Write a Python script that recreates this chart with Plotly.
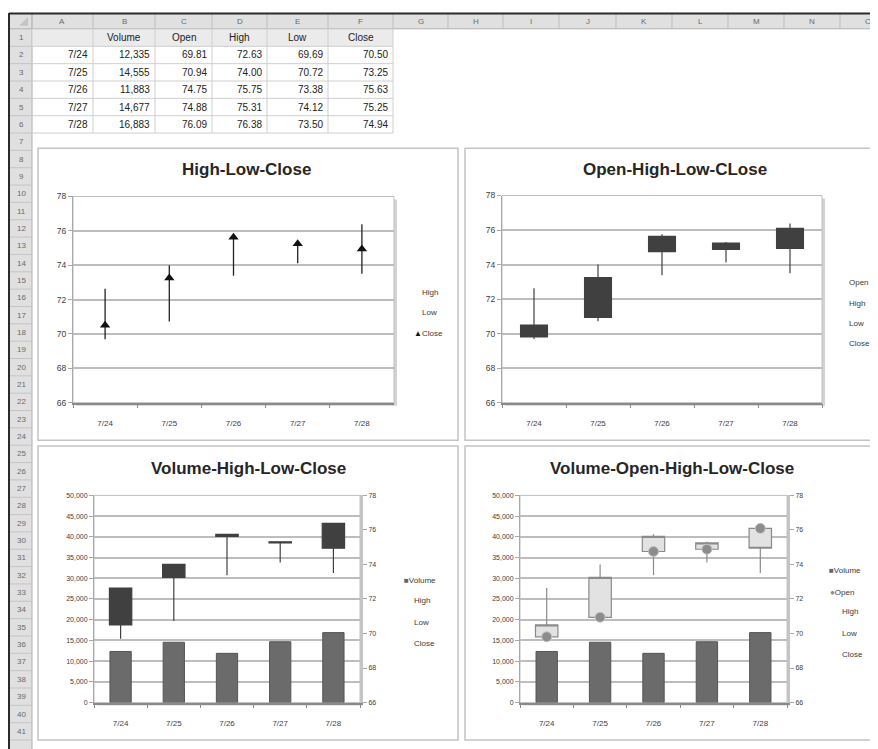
import plotly.graph_objects as go

# ---------------- data ----------------
dates = ["7/24", "7/25", "7/26", "7/27", "7/28"]
volume = [12335, 14555, 11883, 14677, 16883]
open_p = [69.81, 70.94, 74.75, 74.88, 76.09]
high_p = [72.63, 74.00, 75.75, 75.31, 76.38]
low_p = [69.69, 70.72, 73.38, 74.12, 73.50]
close_p = [70.50, 73.25, 75.63, 75.25, 74.94]

column_letters = ["A", "B", "C", "D", "E", "F", "G", "H", "I", "J", "K", "L", "M", "N", "O"]
table_headers = ["Volume", "Open", "High", "Low", "Close"]
chart_titles = ["High-Low-Close", "Open-High-Low-CLose",
                "Volume-High-Low-Close", "Volume-Open-High-Low-Close"]
price_range = [66, 78]
volume_range = [0, 50000]

# ---------------- geometry helpers ----------------
# The page body has an 8px margin, so the figure is placed at (8, 8).
OFF = 8
W, H = 878 - OFF, 749 - OFF
FONT = "Liberation Sans"


def X(p):
    return (p - OFF) / W


def Y(p):
    return 1 - (p - OFF) / H


shapes = []
ann = []


def rect(x0, y0, x1, y1, fill="rgba(0,0,0,0)", line=None, lw=1):
    shapes.append(dict(type="rect", xref="paper", yref="paper",
                       x0=X(x0), x1=X(x1), y0=Y(y1), y1=Y(y0),
                       fillcolor=fill,
                       line=dict(color=line or "rgba(0,0,0,0)", width=lw if line else 0),
                       layer="below"))


def seg(x0, y0, x1, y1, color, lw=1):
    shapes.append(dict(type="line", xref="paper", yref="paper",
                       x0=X(x0), x1=X(x1), y0=Y(y0), y1=Y(y1),
                       line=dict(color=color, width=lw), layer="below"))


def txt(x, y, s, size=8, color="#404040", anchor="center", bold=False):
    ann.append(dict(xref="paper", yref="paper", x=X(x), y=Y(y),
                    text=f"<b>{s}</b>" if bold else s, showarrow=False,
                    xanchor=anchor, yanchor="middle",
                    font=dict(family=FONT, size=size, color=color)))


# ---------------- spreadsheet ----------------
col_edges = [32, 93, 155, 212, 267, 328, 393, 448, 503, 559, 616, 672, 728, 784, 840, 896]
row_top0 = 24.2
row_h = 17.58

rect(10, 9, 900, 24, fill="#e0e0e0")
rect(10, 24, 32, 760, fill="#e0e0e0")
seg(10, 24, 900, 24, "#b0b0b0")
seg(32, 9, 32, 760, "#b0b0b0")
shapes.append(dict(type="path", xref="paper", yref="paper",
                   path=f"M {X(28)} {Y(12)} L {X(28)} {Y(21)} L {X(19)} {Y(21)} Z",
                   fillcolor="#c4c4c4", line=dict(width=0), layer="below"))
for e in col_edges:
    seg(e, 9, e, 24, "#bdbdbd")
for i, letter in enumerate(column_letters):
    txt((col_edges[i] + col_edges[i + 1]) / 2, 16.5, letter, 8, "#6a6a6a")
for r in range(1, 42):
    top = row_top0 + (r - 1) * row_h
    seg(10, top + row_h, 32, top + row_h, "#c4c4c4")
    txt(21, top + row_h / 2, str(r), 8, "#6a6a6a")

table_bottom = row_top0 + 6 * row_h
rect(32, row_top0, col_edges[6], row_top0 + row_h, fill="#ebebeb")
for r in range(7):
    seg(32, row_top0 + r * row_h, col_edges[6], row_top0 + r * row_h, "#cfcfcf")
for e in col_edges[:7]:
    seg(e, row_top0, e, table_bottom, "#cfcfcf")
for j, h in enumerate(table_headers):
    txt((col_edges[j + 1] + col_edges[j + 2]) / 2, row_top0 + row_h / 2, h, 10, "#222")
for i in range(len(dates)):
    yc = row_top0 + (i + 1.5) * row_h
    cells = [dates[i], f"{volume[i]:,}", f"{open_p[i]:.2f}", f"{high_p[i]:.2f}",
             f"{low_p[i]:.2f}", f"{close_p[i]:.2f}"]
    for j, c in enumerate(cells):
        txt(col_edges[j + 1] - 3, yc, c, 10, "#222", anchor="right")

seg(9, 8.5, 900, 8.5, "#2b2b2b", 2)
seg(9, 8, 9, 760, "#2b2b2b", 2)

# ---------------- chart frames ----------------
frames = [(38, 145, 458, 441), (465, 145, 900, 441), (38, 447, 458, 745), (465, 447, 900, 745)]
for f in frames:
    rect(*f, fill="white", line="#c4c4c4", lw=1.5)

plots = [(73, 194, 394, 403), (502, 193, 822, 403), (94, 497, 360, 707), (520, 497, 787, 707)]
for (x0, y0, x1, y1) in plots:
    rect(x0 + 3, y0 + 3, x1 + 3, y1 + 3, fill="#d2d2d2")
    rect(x0, y0, x1, y1, fill="white", line="#c0c0c0", lw=1)

title_pos = [(247, 167), (675, 167), (248, 470), (672, 470)]
for (tx, ty), t in zip(title_pos, chart_titles):
    txt(tx, ty, t, 17, "#262626", bold=True)

# legends (text entries)
LG = "#3a3a3a"
txt(420, 291, "High", 8, LG, "left")
txt(420, 312, "Low", 8, LG, "left")
txt(412, 333, "<span style='color:#111'>▲</span>Close", 8, LG, "left")

for lab, yy in zip(["Open", "High", "Low", "Close"], [281, 302, 323, 343]):
    txt(847, yy, lab, 8, LG, "left")

txt(402, 583, "<span style='color:#666'>■</span>Volume", 8, LG, "left")
for lab, yy in zip(["High", "Low", "Close"], [604, 626, 647]):
    txt(412, yy, lab, 8, LG, "left")

txt(827, 573, "<span style='color:#666'>■</span>Volume", 8, LG, "left")
txt(828, 595, "<span style='color:#8c8c8c'>●</span>Open", 8, LG, "left")
for lab, yy in zip(["High", "Low", "Close"], [615, 637, 658]):
    txt(840, yy, lab, 8, LG, "left")

# ---------------- axes ----------------
TF = dict(family=FONT, size=8, color="#404040")


def xax(dom, anchor):
    return dict(domain=[X(dom[0]), X(dom[2])], anchor=anchor, type="category",
                range=[-0.5, 4.5], showgrid=False, showline=True, linecolor="#8a8a8a",
                linewidth=1.5, ticks="outside", tickson="boundaries", ticklen=4,
                tickcolor="#8a8a8a", tickfont=TF, ticklabelstandoff=12,
                rangeslider=dict(visible=False), fixedrange=True, zeroline=False)


def yax(dom, anchor, rng, dtick, grid=True, side="left", fmt=None, overlay=None,
        lw=1, lc="#a8a8a8", size=8):
    d = dict(domain=[Y(dom[3]), Y(dom[1])], anchor=anchor, range=rng, dtick=dtick,
             tick0=rng[0], showgrid=grid, gridcolor="#bdbdbd", gridwidth=1.5,
             showline=True, linecolor=lc, linewidth=lw, ticks="outside", ticklen=4,
             tickcolor="#a8a8a8", tickfont=dict(family=FONT, size=size, color="#404040"),
             zeroline=False, side=side, fixedrange=True)
    if fmt:
        d["tickformat"] = fmt
    if overlay:
        d["overlaying"] = overlay
    return d


layout = dict(
    width=W, height=H, margin=dict(l=0, r=0, t=0, b=0),
    paper_bgcolor="white", plot_bgcolor="rgba(0,0,0,0)", showlegend=False,
    bargap=0.6, boxgap=0.58, boxgroupgap=0,
    shapes=shapes, annotations=ann,
    xaxis=xax(plots[0], "y"),
    yaxis=yax(plots[0], "x", price_range, 2, size=8.5),
    xaxis2=xax(plots[1], "y2"),
    yaxis2=yax(plots[1], "x2", price_range, 2, size=8.5),
    xaxis3=xax(plots[2], "y3"),
    yaxis3=yax(plots[2], "x3", volume_range, 5000, fmt=",d", size=7),
    yaxis4=yax(plots[2], "x3", price_range, 2, grid=False, side="right",
               overlay="y3", lw=3, lc="#c4c4c4", size=7),
    xaxis4=xax(plots[3], "y5"),
    yaxis5=yax(plots[3], "x4", volume_range, 5000, fmt=",d", size=7),
    yaxis6=yax(plots[3], "x4", price_range, 2, grid=False, side="right",
               overlay="y5", lw=3, lc="#c4c4c4", size=7),
)

# ---------------- traces ----------------
dark = dict(fillcolor="#404040", line=dict(color="#404040", width=1.2))
light = dict(fillcolor="#e2e2e2", line=dict(color="#8a8a8a", width=1.2))
traces = []

# Chart 1: High-Low-Close
traces.append(go.Scatter(
    x=dates, y=close_p, xaxis="x", yaxis="y", mode="markers",
    marker=dict(symbol="triangle-up", size=9, color="#111"),
    error_y=dict(type="data", symmetric=False,
                 array=[h - c for h, c in zip(high_p, close_p)],
                 arrayminus=[c - l for c, l in zip(close_p, low_p)],
                 color="#222", thickness=1.3, width=0),
    hoverinfo="skip"))

# Chart 2: Open-High-Low-Close
traces.append(go.Candlestick(
    x=dates, open=open_p, high=high_p, low=low_p, close=close_p,
    xaxis="x2", yaxis="y2", increasing=dark, decreasing=dark, whiskerwidth=0))

# Chart 3: Volume-High-Low-Close
traces.append(go.Bar(x=dates, y=volume, xaxis="x3", yaxis="y3",
                     marker=dict(color="#6b6b6b", line=dict(color="#555", width=1))))
traces.append(go.Candlestick(
    x=dates, open=high_p, high=high_p, low=low_p, close=close_p,
    xaxis="x3", yaxis="y4", increasing=dark, decreasing=dark, whiskerwidth=0))

# Chart 4: Volume-Open-High-Low-Close
traces.append(go.Bar(x=dates, y=volume, xaxis="x4", yaxis="y5",
                     marker=dict(color="#6b6b6b", line=dict(color="#555", width=1))))
traces.append(go.Candlestick(
    x=dates, open=open_p, high=high_p, low=low_p, close=close_p,
    xaxis="x4", yaxis="y6", increasing=light, decreasing=light, whiskerwidth=0))
traces.append(go.Scatter(
    x=dates, y=open_p, xaxis="x4", yaxis="y6", mode="markers",
    marker=dict(symbol="circle", size=10, color="#8c8c8c",
                line=dict(color="#c4c4c4", width=1)),
    hoverinfo="skip"))

fig = go.Figure(data=traces, layout=layout)
fig.write_html("out.html")
